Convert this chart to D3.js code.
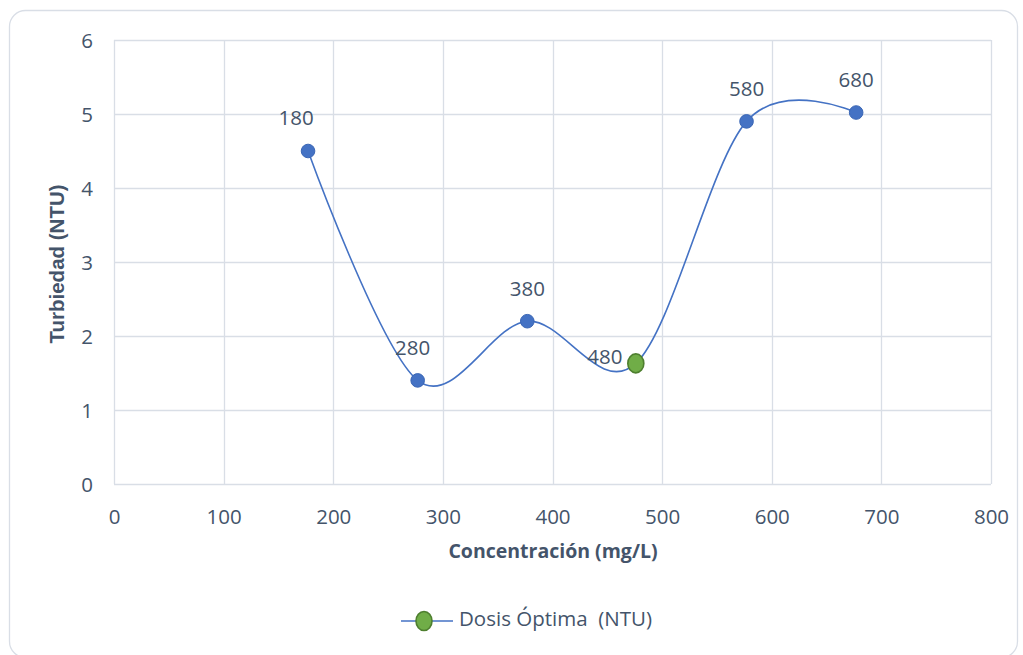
<!DOCTYPE html>
<html>
<head>
<meta charset="utf-8">
<script src="https://cdn.jsdelivr.net/npm/d3@7"></script>
<style>
  html, body { margin: 0; padding: 0; background: #fff; }
  svg text { font-family: "Open Sans", "Noto Sans", sans-serif; fill: #44546A; }
</style>
</head>
<body>
<svg id="chart" width="1023" height="655"></svg>
<script>
// Dosis (mg/L) tested and resulting turbidity (NTU)
const concentration = [177, 277, 377, 476, 577, 677];
const turbidity = [4.5, 1.4, 2.2, 1.63, 4.9, 5.02];
const pointLabels = ["180", "280", "380", "480", "580", "680"];
const labelPlacement = ["above", "above", "above", "left", "above", "above"];
const optimumIndex = 3;
const xTicks = [0, 100, 200, 300, 400, 500, 600, 700, 800];
const yTicks = [0, 1, 2, 3, 4, 5, 6];
const seriesName = "Dosis Óptima  (NTU)";

const svg = d3.select("#chart");
const W = 1023, H = 655;
const plot = { left: 114, right: 991, top: 40, bottom: 484 };

const blue = "#4472C4", blueDark = "#3A66B5";
const green = "#70AD47", greenDark = "#4E7F2F";
const grid = "#D9DEE6";
const fontSize = 20.5;

// outer frame
svg.append("rect")
  .attr("x", 9.5).attr("y", 10.5)
  .attr("width", W - 15).attr("height", H - 8)
  .attr("rx", 16).attr("ry", 16)
  .attr("fill", "#fff").attr("stroke", "#D9DEE6").attr("stroke-width", 1.3);

const x = d3.scaleLinear().domain([0, 800]).range([plot.left, plot.right]);
const y = d3.scaleLinear().domain([0, 6]).range([plot.bottom, plot.top]);

// gridlines
const g = svg.append("g");
g.selectAll("line.v").data(xTicks).join("line")
  .attr("x1", d => Math.round(x(d)) + 0.5).attr("x2", d => Math.round(x(d)) + 0.5)
  .attr("y1", plot.top).attr("y2", plot.bottom)
  .attr("stroke", grid).attr("stroke-width", 1.3);
g.selectAll("line.h").data(yTicks).join("line")
  .attr("y1", d => Math.round(y(d)) + 0.5).attr("y2", d => Math.round(y(d)) + 0.5)
  .attr("x1", plot.left).attr("x2", plot.right)
  .attr("stroke", grid).attr("stroke-width", 1.3);

// axes (labels only)
const xAxis = d3.axisBottom(x).tickValues(xTicks).tickFormat(d3.format("d")).tickSize(0).tickPadding(0);
svg.append("g").attr("transform", `translate(0,${plot.bottom + 33})`)
  .call(xAxis)
  .call(s => s.select(".domain").remove())
  .call(s => s.selectAll("text").attr("font-size", fontSize).attr("dy", "0.35em")
    .style("font-family", '"Open Sans", sans-serif').attr("fill", "#44546A"));

const yAxis = d3.axisLeft(y).tickValues(yTicks).tickFormat(d3.format("d")).tickSize(0).tickPadding(0);
svg.append("g").attr("transform", `translate(${plot.left - 21},0)`)
  .call(yAxis)
  .call(s => s.select(".domain").remove())
  .call(s => s.selectAll("text").attr("font-size", fontSize).attr("dy", "0.35em")
    .style("font-family", '"Open Sans", sans-serif').attr("fill", "#44546A"));

// axis titles
svg.append("text")
  .attr("x", 553).attr("y", 553)
  .attr("text-anchor", "middle").attr("dominant-baseline", "middle")
  .attr("font-size", 19.5).attr("font-weight", "bold")
  .text("Concentración (mg/L)");
svg.append("text")
  .attr("transform", `translate(59,${(plot.top + plot.bottom) / 2 + 2}) rotate(-90)`)
  .attr("text-anchor", "middle").attr("dominant-baseline", "middle")
  .attr("font-size", 20.5).attr("font-weight", "bold")
  .style("font-family", '"Liberation Sans", Arial, sans-serif')
  .text("Turbiedad (NTU)");

// smoothed series line
const pts = concentration.map((c, i) => [x(c), y(turbidity[i])]);
const line = d3.line().curve(d3.curveCardinal.tension(0));
svg.append("path")
  .attr("d", line(pts))
  .attr("fill", "none").attr("stroke", blue).attr("stroke-width", 1.6);

// markers
svg.selectAll("circle.pt").data(pts.filter((_, i) => i !== optimumIndex)).join("circle")
  .attr("cx", d => d[0]).attr("cy", d => d[1]).attr("r", 6.8)
  .attr("fill", blue).attr("stroke", blueDark).attr("stroke-width", 1);

const opt = pts[optimumIndex];
svg.append("ellipse")
  .attr("cx", opt[0]).attr("cy", opt[1]).attr("rx", 8).attr("ry", 9.5)
  .attr("fill", green).attr("stroke", greenDark).attr("stroke-width", 1.6);

// data labels
svg.selectAll("text.lbl").data(pts).join("text")
  .attr("x", (d, i) => labelPlacement[i] === "left" ? d[0] - 31 : d[0] - (i === 0 ? 12 : i === 1 ? 5 : 0))
  .attr("y", (d, i) => labelPlacement[i] === "left" ? d[1] - 5 : d[1] - 31)
  .attr("text-anchor", "middle").attr("dominant-baseline", "middle")
  .attr("font-size", fontSize)
  .text((d, i) => pointLabels[i]);

// legend
const ly = 621;
svg.append("line")
  .attr("x1", 401).attr("x2", 453).attr("y1", ly).attr("y2", ly)
  .attr("stroke", blue).attr("stroke-width", 1.6);
svg.append("ellipse")
  .attr("cx", 424).attr("cy", ly).attr("rx", 8).attr("ry", 9.5)
  .attr("fill", green).attr("stroke", greenDark).attr("stroke-width", 1.6);
svg.append("text")
  .attr("x", 459).attr("y", ly).attr("dominant-baseline", "middle")
  .attr("font-size", fontSize).attr("xml:space", "preserve")
  .style("white-space", "pre")
  .text(seriesName);
</script>
</body>
</html>
